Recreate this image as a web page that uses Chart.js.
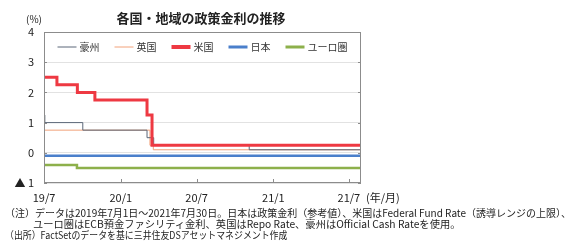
<!DOCTYPE html>
<html>
<head>
<meta charset="utf-8">
<script src="https://cdn.jsdelivr.net/npm/chart.js@4.4.0/dist/chart.umd.min.js"></script>
<style>
  body { margin: 0; background: #fff; font-family: "Noto Sans CJK JP", sans-serif; color: #222; }
  #wrap { position: relative; width: 566px; height: 249px; }
  .txt { position: absolute; white-space: nowrap; font-size: 10px; line-height: 12px; transform-origin: left top; }
  #title { left: 0; width: 402px; top: 10px; text-align: center; font-size: 13px; font-weight: bold; line-height: 16px; }
</style>
</head>
<body>
<div id="wrap">
  <canvas id="myChart"></canvas>
  <div id="title" class="txt">各国・地域の政策金利の推移</div>
  <div class="txt" style="left:26px;top:13px;">(%)</div>
  <div class="txt" style="left:366px;top:191px;font-size:11px;">(年/月)</div>
  <div class="txt" style="left:5px;top:207px;">（注）データは2019年7月1日～2021年7月30日。日本は政策金利（参考値）、米国はFederal Fund Rate（誘導レンジの上限）、</div>
  <div class="txt" style="left:33px;top:218px;transform:scaleX(1.026);">ユーロ圏はECB預金ファシリティ金利、英国はRepo Rate、豪州はOfficial Cash Rateを使用。</div>
  <div class="txt" style="left:5px;top:229px;transform:scaleX(0.89);">（出所）FactSetのデータを基に三井住友DSアセットマネジメント作成</div>
</div>
<script>
// policy rates, dates are when the rate changed
let auDates = ['2019-07-01', '2019-07-03', '2019-10-02', '2020-03-04', '2020-03-20', '2020-11-04', '2021-07-30'];
let auRates = [1.25, 1.0, 0.75, 0.5, 0.25, 0.1, 0.1];
let ukDates = ['2019-07-01', '2020-03-11', '2020-03-19', '2021-07-30'];
let ukRates = [0.75, 0.25, 0.1, 0.1];
let usDates = ['2019-07-01', '2019-08-01', '2019-09-19', '2019-10-31', '2020-03-04', '2020-03-16', '2021-07-30'];
let usRates = [2.5, 2.25, 2.0, 1.75, 1.25, 0.25, 0.25];
let jpDates = ['2019-07-01', '2021-07-30'];
let jpRates = [-0.1, -0.1];
let euDates = ['2019-07-01', '2019-09-18', '2021-07-30'];
let euRates = [-0.4, -0.5, -0.5];

let tickDates = ['2019-07-01', '2020-01-01', '2020-07-01', '2021-01-01', '2021-07-01'];
let tickLabels = ['19/7', '20/1', '20/7', '21/1', '21/7'];

function dayOf(s) {
  let p = s.split('-');
  return (Date.UTC(+p[0], +p[1] - 1, +p[2]) - Date.UTC(2019, 6, 1)) / 86400000;
}
function pts(dates, rates) {
  return dates.map(function (d, i) { return { x: dayOf(d), y: rates[i] }; });
}
let tickDays = tickDates.map(dayOf);

// frame, small inner ticks and the legend inside the plot
let framePlugin = {
  id: 'frame',
  afterDatasetsDraw: function (chart) {
    let a = chart.chartArea, ctx = chart.ctx;
    ctx.save();
    ctx.strokeStyle = '#8c8c8c';
    ctx.lineWidth = 1;
    ctx.strokeRect(a.left + 0.5, a.top + 0.5, a.right - a.left - 1, a.bottom - a.top - 1);
    ctx.beginPath();
    tickDays.slice(1).forEach(function (d) {
      let x = Math.round(chart.scales.x.getPixelForValue(d)) + 0.5;
      ctx.moveTo(x, a.bottom); ctx.lineTo(x, a.bottom - 4);
    });
    for (let v = -1; v <= 4; v++) {
      let y = Math.round(chart.scales.y.getPixelForValue(v)) + 0.5;
      ctx.moveTo(a.left, y); ctx.lineTo(a.left + 3, y);
      ctx.moveTo(a.right, y); ctx.lineTo(a.right - 3, y);
    }
    ctx.stroke();

    // legend
    ctx.font = '10px "Noto Sans CJK JP"';
    ctx.textBaseline = 'middle';
    let ds = chart.data.datasets;
    let lineLen = 19, gap = 3, space = 15;
    let widths = ds.map(function (d) { return lineLen + gap + ctx.measureText(d.label).width; });
    let total = widths.reduce(function (s, w) { return s + w; }, 0) + space * (ds.length - 1);
    let x = (a.left + a.right) / 2 - total / 2;
    let y = a.top + 15;
    ds.forEach(function (d, i) {
      ctx.strokeStyle = d.borderColor;
      ctx.lineWidth = d.legendWidth;
      ctx.beginPath();
      ctx.moveTo(x, y); ctx.lineTo(x + lineLen, y);
      ctx.stroke();
      ctx.fillStyle = '#333';
      ctx.fillText(d.label, x + lineLen + gap, y);
      x += widths[i] + space;
    });
    ctx.restore();
  }
};

var ctx = document.getElementById('myChart');
var chart = new Chart(ctx, {
  type: 'line',
  data: {
    datasets: [
      { label: '豪州', data: pts(auDates, auRates), borderColor: '#5b6778', borderWidth: 1, legendWidth: 1, order: 2 },
      { label: '英国', data: pts(ukDates, ukRates), borderColor: '#f2a27a', borderWidth: 1, legendWidth: 1, order: 3 },
      { label: '米国', data: pts(usDates, usRates), borderColor: '#ee3942', borderWidth: 3, legendWidth: 4, order: 0 },
      { label: '日本', data: pts(jpDates, jpRates), borderColor: '#4a7fcb', borderWidth: 2.5, legendWidth: 3, order: 1 },
      { label: 'ユーロ圏', data: pts(euDates, euRates), borderColor: '#8db04b', borderWidth: 2.5, legendWidth: 3, order: 1 }
    ]
  },
  options: {
    responsive: true,
    maintainAspectRatio: false,
    animation: false,
    layout: { padding: { top: 32, right: 205, left: 0, bottom: 0 } },
    elements: { point: { radius: 0 }, line: { stepped: true, tension: 0 } },
    plugins: {
      tooltip: { enabled: false },
      legend: { display: false }
    },
    scales: {
      x: {
        type: 'linear',
        min: 0,
        max: dayOf('2021-07-30'),
        afterBuildTicks: function (scale) { scale.ticks = tickDays.map(function (v) { return { value: v }; }); },
        afterFit: function (scale) { scale.height = 66; },
        grid: { display: false, drawTicks: false },
        border: { display: false },
        ticks: {
          autoSkip: false, maxRotation: 0, padding: 8, color: '#222',
          font: { family: '"Noto Sans CJK JP"', size: 11 },
          callback: function (v, i) { return tickLabels[i]; }
        }
      },
      y: {
        min: -1,
        max: 4,
        afterFit: function (scale) { scale.width = 44; },
        grid: { color: '#e2e2e2', drawTicks: false },
        border: { display: false },
        ticks: {
          stepSize: 1, padding: 10, color: '#222',
          font: { family: '"Noto Sans CJK JP"', size: 11 },
          callback: function (v) { return v < 0 ? '▲ ' + Math.abs(v) : v; }
        }
      }
    }
  },
  plugins: [framePlugin]
});
</script>
</body>
</html>
